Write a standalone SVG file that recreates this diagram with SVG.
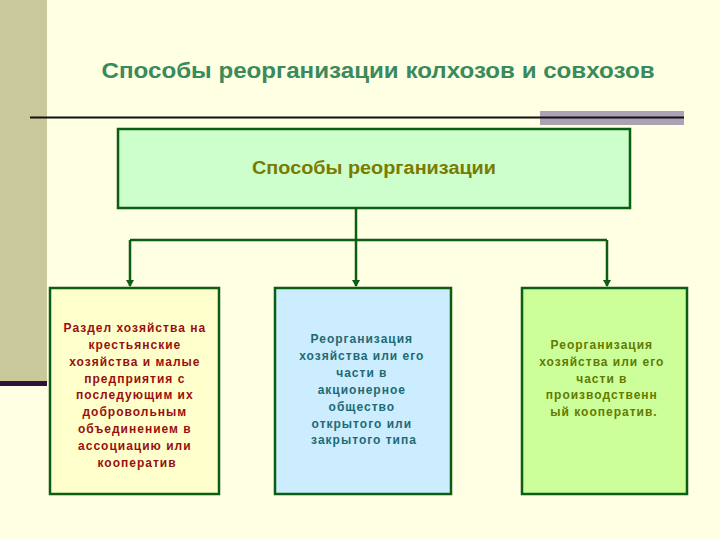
<svg xmlns="http://www.w3.org/2000/svg" width="720" height="540" viewBox="0 0 720 540">
<defs>
<style>
.box{stroke:#0B5E12;stroke-width:2.5}
.t{font-family:"Liberation Sans",Arial,sans-serif;font-weight:bold;text-anchor:middle}
.small{font-size:12px;letter-spacing:1px}
.conn{stroke:#0B5E12;stroke-width:2.5;fill:none}
</style>
<marker id="arr" markerWidth="8" markerHeight="8" refX="6" refY="4" orient="auto" markerUnits="userSpaceOnUse">
<path d="M0,0 L7,4 L0,8 Z" fill="#0B5E12"/>
</marker>
</defs>
<rect width="720" height="540" fill="#FFFFE3"/>
<rect x="0" y="0" width="47" height="381" fill="#C8C89B"/>
<rect x="0" y="381" width="47" height="5" fill="#2E1238"/>
<rect x="540" y="111" width="144" height="14" fill="#ABA3B5"/>
<line x1="30" y1="117.5" x2="684" y2="117.5" stroke="#111" stroke-width="2"/>
<text class="t" x="378" y="78" font-size="22" textLength="553" lengthAdjust="spacingAndGlyphs" fill="#3A8A5C">Способы реорганизации колхозов и совхозов</text>

<g id="connectors">
<line class="conn" x1="356" y1="208" x2="356" y2="240"/>
<line class="conn" x1="130" y1="240" x2="607" y2="240"/>
<line class="conn" x1="130" y1="240" x2="130" y2="286" marker-end="url(#arr)"/>
<line class="conn" x1="356" y1="240" x2="356" y2="286" marker-end="url(#arr)"/>
<line class="conn" x1="607" y1="240" x2="607" y2="286" marker-end="url(#arr)"/>
</g>

<g id="root">
<rect class="box" x="118" y="129" width="512" height="79" fill="#CCFFCC"/>
<text class="t" x="374" y="174" font-size="18" textLength="244" lengthAdjust="spacingAndGlyphs" fill="#7A7A00">Способы реорганизации</text>
</g>

<g id="node1">
<rect class="box" x="50" y="288" width="169" height="206" fill="#FFFFCC"/>
<text class="t small" fill="#990F0F">
<tspan x="137" y="332">Раздел хозяйства на</tspan>
<tspan x="137" y="349">крестьянские</tspan>
<tspan x="137" y="366">хозяйства и малые</tspan>
<tspan x="137" y="383">предприятия с</tspan>
<tspan x="137" y="399">последующим их</tspan>
<tspan x="137" y="416">добровольным</tspan>
<tspan x="137" y="433">объединением в</tspan>
<tspan x="137" y="450">ассоциацию или</tspan>
<tspan x="137" y="467">кооператив</tspan>
</text>
</g>

<g id="node2">
<rect class="box" x="275" y="288" width="176" height="206" fill="#CCECFF"/>
<text class="t small" fill="#1E6A72">
<tspan x="364" y="343">Реорганизация</tspan>
<tspan x="364" y="360">хозяйства или его</tspan>
<tspan x="364" y="377">части в</tspan>
<tspan x="364" y="394">акционерное</tspan>
<tspan x="364" y="411">общество</tspan>
<tspan x="364" y="428">открытого или</tspan>
<tspan x="364" y="444">закрытого типа</tspan>
</text>
</g>

<g id="node3">
<rect class="box" x="522" y="288" width="165" height="206" fill="#CCFF99"/>
<text class="t small" fill="#627A00">
<tspan x="604" y="349">Реорганизация</tspan>
<tspan x="604" y="366">хозяйства или его</tspan>
<tspan x="604" y="383">части в</tspan>
<tspan x="604" y="399">производственн</tspan>
<tspan x="604" y="416">ый кооператив.</tspan>
</text>
</g>
</svg>
